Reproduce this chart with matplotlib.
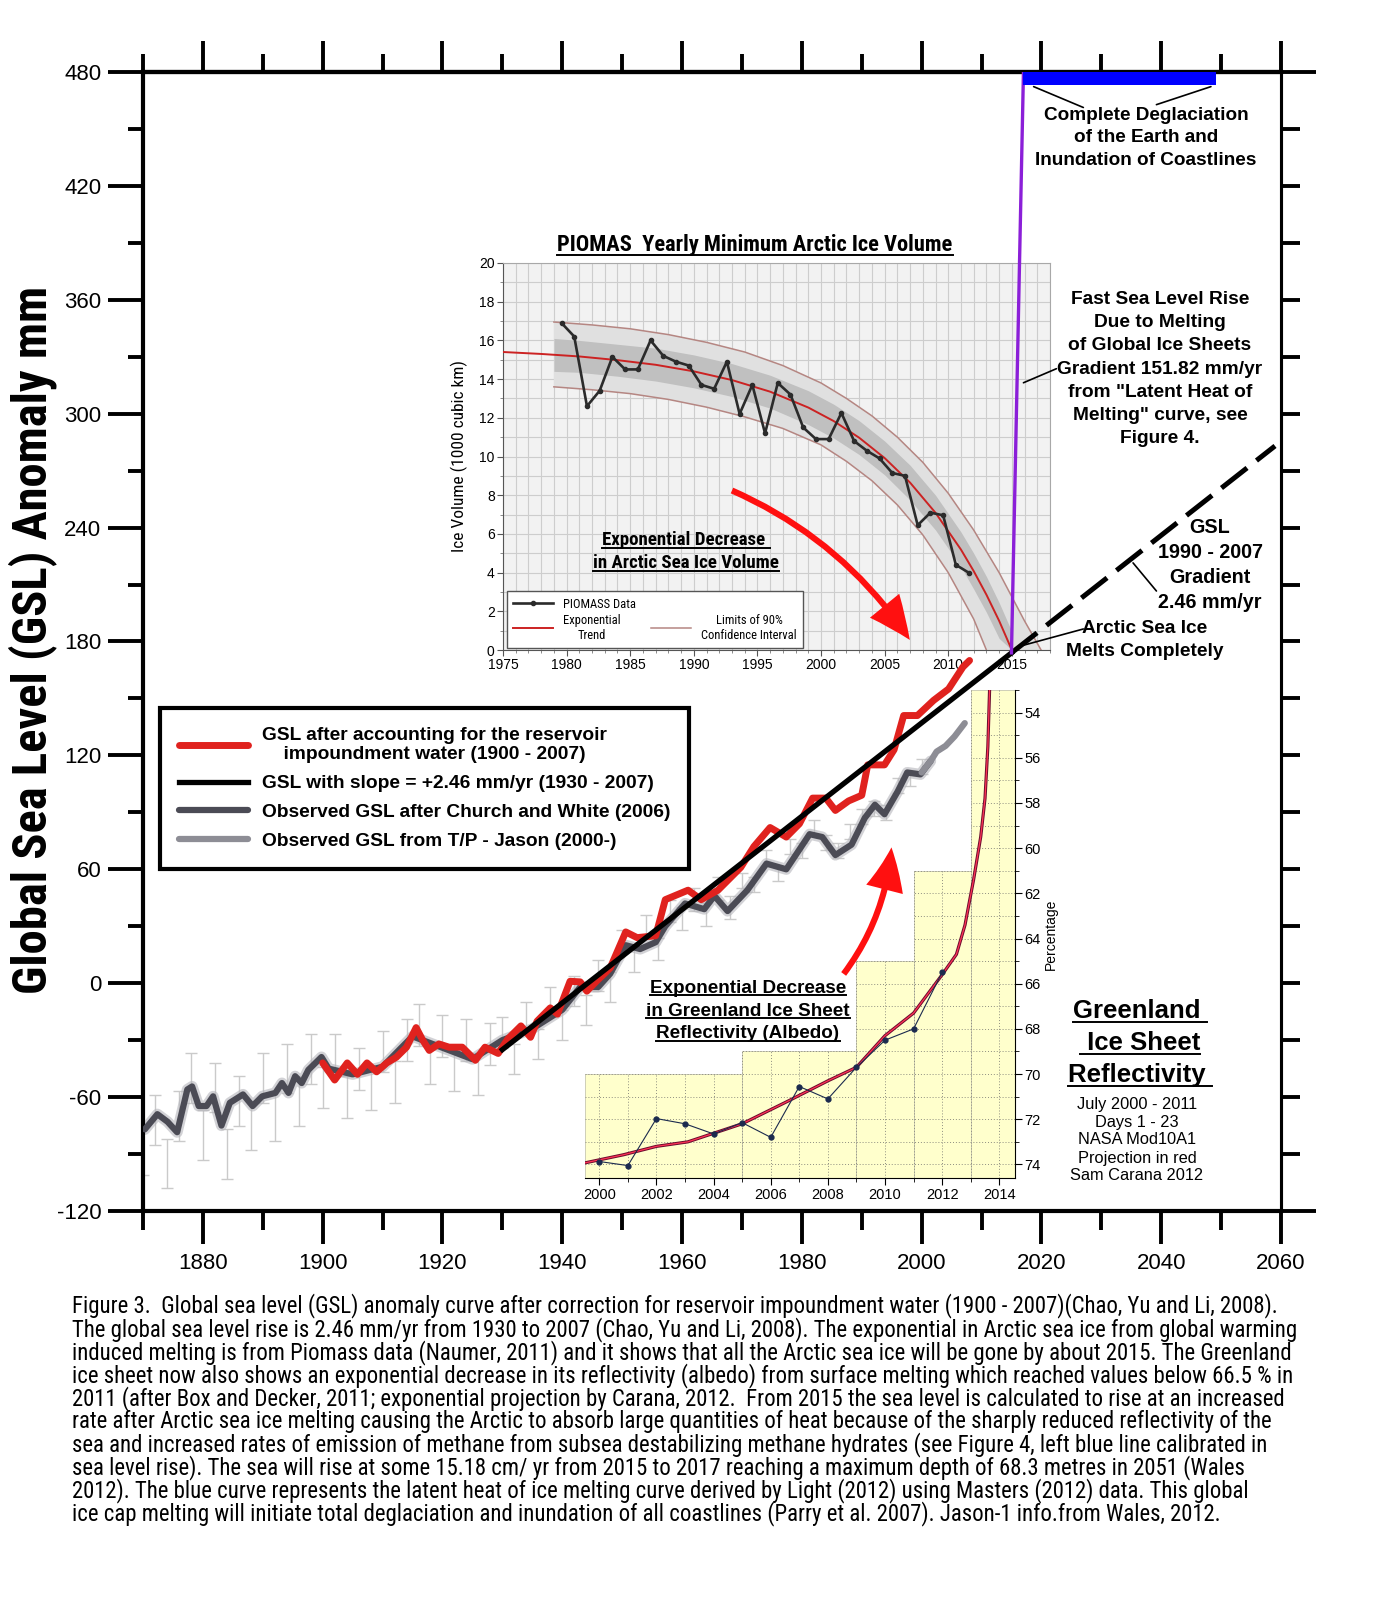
import numpy as np
import matplotlib
matplotlib.use("Agg")
import matplotlib.pyplot as plt
from matplotlib import font_manager
from matplotlib.lines import Line2D
from matplotlib.patches import FancyArrowPatch
from matplotlib.path import Path

# ---------------- data ----------------
# observed GSL after Church and White (dark grey), mm
cw_years = [1870.3, 1872.4, 1874.1, 1875.7, 1877.4, 1878.2, 1879.3, 1880.6, 1881.7, 1883.1,
            1884.5, 1886.7, 1888.3, 1889.9, 1892.1, 1893.2, 1894.3, 1895.4, 1896.5, 1897.6,
            1899.8, 1901, 1905, 1910, 1915, 1920, 1925, 1930, 1935, 1940, 1943, 1946, 1948,
            1950.6, 1953, 1955.6, 1957.2, 1960.5, 1963.7, 1965.4, 1967.6, 1970.9, 1974.1,
            1977.4, 1981.3, 1983.4, 1985.6, 1988.3, 1990.5, 1992.2, 1993.8, 1996, 1997.6,
            1999.8, 2001.5]
cw_values = [-77, -69, -73, -78.5, -56, -54.4, -64.7, -64.7, -59.6, -75,
             -63, -58.6, -64.7, -59.6, -57.8, -52.6, -57.8, -49, -52.6, -45.7,
             -38.9, -45, -48, -44, -28, -34, -40, -30, -24, -14, -2, -2, 5,
             20, 18, 21.6, 30, 42, 39, 46, 38, 49, 63,
             60, 78.5, 77, 67.5, 73, 87, 94, 89, 101, 111,
             110, 117]

# observed GSL from T/P - Jason (mid grey)
tpj_years = [2000, 2001.5, 2002.5, 2004, 2005.5, 2007.2]
tpj_values = [111, 117, 122, 125, 130, 137]

# GSL corrected for reservoir impoundment (red)
red_years = [1900, 1902, 1904.1, 1905.8, 1907.4, 1909, 1910.7, 1912.3, 1914, 1915.6, 1916.7,
             1917.8, 1919.4, 1921.1, 1923.3, 1925.5, 1927.1, 1929.3, 1930.9, 1933.1, 1934.7,
             1935.8, 1938, 1939.2, 1941.3, 1943, 1944.1, 1945.7, 1948, 1950.6, 1952.5, 1955.6,
             1957.2, 1961, 1963.2, 1966, 1969.8, 1972, 1974.7, 1977.4, 1979.6, 1981.8, 1984,
             1985.6, 1987.8, 1990, 1991, 1993.8, 1995.4, 1997, 1999.3, 2002, 2004.5, 2006.9, 2008]
red_values = [-42, -51, -42, -48, -42, -46.7, -42, -39, -33.7, -23.4, -30,
              -35.4, -32, -33.7, -33.7, -40.6, -33.7, -37, -29.4, -22.5, -28.5,
              -20, -13, -16.3, 1, 0.7, -4.2, 1, 8, 27, 24, 25,
              44, 49, 44, 49, 61, 72, 82, 77, 84, 97.5, 97.5,
              91, 96, 99, 115, 115, 123, 141, 141, 149, 155, 166.6, 170]

# annual observations with error bars (light grey)
obs_years = list(range(1870, 2001, 2))
obs_values = [-88, -72, -95, -70, -50, -80, -55, -90, -62, -75, -50, -70, -45, -62, -40,
              -55, -38, -60, -45, -56, -36, -52, -30, -22, -42, -28, -46, -30, -48, -32,
              -26, -40, -18, -32, -10, -22, -4, -14, 4, -2,
              22, 12, 30, 18, 38, 34, 44, 36, 50, 40,
              54, 52, 66, 58, 72, 70, 82, 74, 70, 80, 88, 92, 90, 104, 108, 114]
obs_err = [13, 13, 13, 13, 13, 13, 13, 13, 13, 13, 13, 13, 13, 13, 13,
           11, 11, 11, 11, 11, 11, 11, 11, 11, 11, 11, 11, 11, 11, 11,
           8, 8, 8, 8, 8, 8, 8, 8, 8, 8,
           6, 6, 6, 6, 6, 6, 6, 6, 6, 6,
           4, 4, 4, 4, 4, 4, 4, 4, 4, 4, 4, 4, 4, 4, 4, 4]

# GSL linear fit 2.46 mm/yr and its projection
fit_years = [1930, 2015]
fit_values = [-35, 174]
proj_years = [2015, 2059]
proj_values = [174, 283]

# fast rise after the sea ice is gone (purple) and deglaciation level (blue)
melt_years = [2015, 2017]
melt_values = [174, 480]
deglac_years = [2017, 2049.2]
deglac_top = [480, 480]
deglac_bottom = [473, 473]

# PIOMAS yearly minimum Arctic ice volume, 1000 km3
piomas_years = list(range(1979, 2012))
piomas_values = [16.9, 16.2, 12.6, 13.4, 15.15, 14.5, 14.5, 16.0, 15.2, 14.9, 14.7, 13.7,
                 13.5, 14.9, 12.2, 13.7, 11.2, 13.8, 13.2, 11.5, 10.9, 10.9, 12.25, 10.8,
                 10.3, 9.9, 9.15, 9.0, 6.45, 7.1, 6.96, 4.4, 4.0]
trend_years = [1975, 1978, 1981, 1984, 1987, 1990, 1993, 1996, 1999, 2001, 2003, 2005, 2007,
               2009, 2011, 2012, 2013, 2014, 2015]
trend_values = [15.4, 15.3, 15.17, 14.98, 14.74, 14.4, 13.95, 13.35, 12.53, 11.83, 10.97,
                9.92, 8.65, 7.09, 5.19, 4.08, 2.86, 1.51, 0.0]
band_years = [1979, 1981, 1984, 1987, 1990, 1993, 1996, 1999, 2001, 2003, 2005, 2007, 2009,
              2011, 2012, 2013, 2014, 2015]
band_hi = [16.1, 16.0, 15.8, 15.6, 15.25, 14.8, 14.2, 13.4, 12.7, 11.85, 10.8, 9.55, 8.0,
           6.1, 5.0, 3.8, 2.45, 0.95]
band_lo = [14.4, 14.35, 14.15, 13.9, 13.55, 13.1, 12.5, 11.65, 10.95, 10.1, 9.05, 7.75, 6.2,
           4.3, 3.15, 1.95, 0.6, 0.0]
ci_up_years = [1979, 1982, 1985, 1988, 1991, 1994, 1997, 2000, 2002, 2004, 2006, 2008, 2010,
               2012, 2014, 2016, 2017.3]
ci_up_values = [16.95, 16.8, 16.6, 16.3, 15.9, 15.4, 14.7, 13.8, 13.0, 12.1, 11.0, 9.7, 8.1,
                6.2, 4.0, 1.5, 0.0]
ci_lo_years = [1979, 1982, 1985, 1988, 1991, 1994, 1997, 2000, 2002, 2004, 2006, 2008, 2010,
               2012, 2013]
ci_lo_values = [13.6, 13.45, 13.25, 12.95, 12.55, 12.05, 11.45, 10.6, 9.75, 8.75, 7.5, 5.95,
                4.0, 1.6, 0.0]

# Greenland ice sheet albedo, percent
albedo_years = list(range(2000, 2013))
albedo_values = [73.87, 74.05, 71.97, 72.2, 72.65, 72.15, 72.8, 70.55, 71.1, 69.7, 68.5, 68.0, 65.5]
albproj_years = [1999.5, 2000.85, 2002, 2003.1, 2005, 2006.6, 2008, 2009, 2010, 2011, 2012,
                 2012.5, 2012.8, 2013.1, 2013.35, 2013.5, 2013.6, 2013.66]
albproj_values = [73.93, 73.57, 73.2, 73.0, 72.2, 71.2, 70.3, 69.7, 68.3, 67.3, 65.6,
                  64.7, 63.4, 61.4, 59.5, 57.8, 55.5, 53.0]
yellow_left = [1999.5, 2005, 2009, 2011, 2013]
yellow_width = [5.5, 4, 2, 2, 1.55]
yellow_top = [70, 69, 65, 61, 53]

caption = [
    "Figure 3.  Global sea level (GSL) anomaly curve after correction for reservoir impoundment water (1900 - 2007)(Chao, Yu and Li, 2008).",
    "The global sea level rise is 2.46 mm/yr from 1930 to 2007 (Chao, Yu and Li, 2008). The exponential in Arctic sea ice from global warming",
    "induced melting is from Piomass data (Naumer, 2011) and it shows that all the Arctic sea ice will be gone by about 2015. The Greenland",
    "ice sheet now also shows an exponential decrease in its reflectivity (albedo) from surface melting which reached values below 66.5 % in",
    "2011 (after Box and Decker, 2011; exponential projection by Carana, 2012.  From 2015 the sea level is calculated to rise at an increased",
    "rate after Arctic sea ice melting causing the Arctic to absorb large quantities of heat because of the sharply reduced reflectivity of the",
    "sea and increased rates of emission of methane from subsea destabilizing methane hydrates (see Figure 4, left blue line calibrated in",
    "sea level rise). The sea will rise at some 15.18 cm/ yr from 2015 to 2017 reaching a maximum depth of 68.3 metres in 2051 (Wales",
    "2012). The blue curve represents the latent heat of ice melting curve derived by Light (2012) using Masters (2012) data. This global",
    "ice cap melting will initiate total deglaciation and inundation of all coastlines (Parry et al. 2007). Jason-1 info.from Wales, 2012.",
]

# ---------------- setup ----------------
W, H, DPI = 1396, 1600, 100
SANS = "Liberation Sans"
plt.rcParams["font.family"] = [SANS, "DejaVu Sans"]
plt.rcParams["axes.unicode_minus"] = False


def pick_narrow():
    faces = font_manager.fontManager.ttflist
    names = {f.name for f in faces}
    for p in ("Liberation Sans Narrow", "Arial Narrow", "Roboto Condensed",
              "Open Sans Condensed", "Noto Sans Condensed", "DejaVu Sans Condensed",
              "Noto Sans SemiCondensed"):
        if p in names:
            return dict(family=p)
    for f in faces:
        if f.stretch in ("condensed", "semi-condensed") and "Sans" in f.name and "Mono" not in f.name:
            return dict(family=f.name, stretch=f.stretch)
    return dict(family=SANS)


NARROW = pick_narrow()


def box(l, t, r, b):
    return [l / W, 1 - b / H, (r - l) / W, (b - t) / H]


def fx(x):
    return x / W


def fy(y):
    return 1 - y / H


fig = plt.figure(figsize=(W / DPI, H / DPI), dpi=DPI)
fig.patch.set_facecolor("white")
renderer = fig.canvas.get_renderer()


def fit(t, target, vertical=False):
    for _ in range(3):
        bb = t.get_window_extent(renderer)
        size = bb.height if vertical else bb.width
        t.set_fontsize(t.get_fontsize() * target / size)


def underline(t, lw=1.4):
    bb = t.get_window_extent(renderer)
    y = bb.y0 + 1.5
    fig.add_artist(Line2D([bb.x0 / W, bb.x1 / W], [y / H, y / H],
                          transform=fig.transFigure, color="black", lw=lw))


def text_lines(x, ys, lines, ul=False, **kw):
    for y, s in zip(ys, lines):
        t = fig.text(fx(x), fy(y), s, ha="center", va="center", **kw)
        if ul:
            underline(t)


# ---------------- PIOMAS inset ----------------
axp = fig.add_axes(box(503, 263, 1050, 650), zorder=1)
axp.set_facecolor("#f2f2f2")
axp.set_xlim(1975, 2018)
axp.set_ylim(0, 20)
axp.set_xticks(range(1975, 2016, 5))
axp.set_xticks(range(1975, 2019), minor=True)
axp.set_yticks(range(0, 21, 2))
axp.set_yticks(np.arange(0, 20.01, 1), minor=True)
axp.grid(which="both", color="#cdcdcd", lw=0.8)
axp.set_axisbelow(True)
axp.tick_params(which="major", labelsize=10, length=4, width=0.8, color="#555", pad=2)
axp.tick_params(which="minor", length=2.5, width=0.6, color="#777")
for s in ("top", "right"):
    axp.spines[s].set_color("#a8a8a8")
for s in ("left", "bottom"):
    axp.spines[s].set_color("#555")

axp.fill(np.r_[ci_up_years, ci_lo_years[::-1]], np.r_[ci_up_values, ci_lo_values[::-1]],
         color="#e0e0e0", lw=0, zorder=1)
axp.fill_between(band_years, band_lo, band_hi, color="#c0c0c0", lw=0, zorder=2)
ci_line, = axp.plot(ci_up_years, ci_up_values, color="#b58682", lw=1.1, zorder=3)
axp.plot(ci_lo_years, ci_lo_values, color="#b58682", lw=1.1, zorder=3)
trend_line, = axp.plot(trend_years, trend_values, color="#cc2222", lw=1.4, zorder=4)
data_line, = axp.plot(np.array(piomas_years) + 0.6, piomas_values, color="#2b2b2b", lw=1.9,
                      marker="o", ms=3, zorder=5)
blank = Line2D([], [], alpha=0)
lgp = axp.legend([data_line, trend_line, blank, ci_line],
                 ["PIOMASS Data", "Exponential\nTrend", "", "Limits of 90%\nConfidence Interval"],
                 ncols=2, loc="lower left", bbox_to_anchor=(0.007, 0.005), borderaxespad=0,
                 prop=dict(size=9, **NARROW), frameon=True, fancybox=False,
                 edgecolor="#555", framealpha=1, handlelength=3.2, columnspacing=1.2,
                 labelspacing=0.25, borderpad=0.5)
for t in lgp.get_texts():
    t.set_multialignment("center")
axp.set_ylabel("Ice Volume (1000 cubic km)", fontsize=12.5, labelpad=8,
               fontfamily=NARROW["family"], fontstretch=NARROW.get("stretch", "normal"))
axp.add_patch(FancyArrowPatch((1992.8, 8.3), (2007.1, 0.4), connectionstyle="arc3,rad=-0.15",
                              arrowstyle="simple,tail_width=0.13,head_width=0.8,head_length=0.9",
                              mutation_scale=34, color="#ff1010", lw=0, zorder=6))

# ---------------- Greenland inset ----------------
axg = fig.add_axes(box(585, 690, 1015, 1178), zorder=2)
axg.patch.set_alpha(0)
gb = 74.6
axg.set_xlim(1999.5, 2014.55)
axg.set_ylim(gb, 53)
axg.bar(yellow_left, [t - gb for t in yellow_top], bottom=gb, width=yellow_width, align="edge",
        color="#ffffcc", edgecolor="#c8c8b0", lw=0.6, zorder=0)
verts = [(yellow_left[0], gb)]
for l, w, t in zip(yellow_left, yellow_width, yellow_top):
    verts += [(l, t), (l + w, t)]
verts += [(yellow_left[-1] + yellow_width[-1], gb), (yellow_left[0], gb)]
stair = Path(verts, closed=True)
gv = axg.vlines(range(2000, 2015), 53, gb, colors="#8e8e80", linestyles=(0, (1, 2)), lw=0.7, zorder=1)
gh = axg.hlines(range(54, 75), 1999.5, 2014.55, colors="#8e8e80", linestyles=(0, (1, 2)), lw=0.7, zorder=1)
for g in (gv, gh):
    g.set_clip_path(stair, axg.transData)
axg.yaxis.tick_right()
axg.set_yticks(range(54, 75, 2))
axg.set_yticks(range(53, 75), minor=True)
axg.set_xticks(range(2000, 2015, 2))
axg.set_xticks(range(2000, 2015), minor=True)
axg.tick_params(which="major", labelsize=10.5, length=5, width=0.8, pad=2)
axg.tick_params(which="minor", length=3, width=0.6)
axg.spines[["left", "top"]].set_visible(False)
axg.yaxis.set_label_position("right")
axg.set_ylabel("Percentage", fontsize=10, labelpad=2)
axg.plot(albproj_years, albproj_values, color="#6a0b2e", lw=2.3, zorder=3)
axg.plot(albproj_years, albproj_values, color="#ff3355", lw=0.9, zorder=4)
axg.plot(albedo_years, albedo_values, color="#1b2a4e", lw=0.8, marker="o", ms=3.5, zorder=5)

# ---------------- main chart ----------------
ax = fig.add_axes(box(143, 72, 1281, 1211), zorder=5)
ax.patch.set_alpha(0)
ax.set_xlim(1870, 2060)
ax.set_ylim(-120, 480)

ax.errorbar(obs_years, obs_values, yerr=obs_err, fmt="none", ecolor="#cacaca",
            elinewidth=1.0, capsize=4.5, capthick=1.0, zorder=1)
ax.plot(cw_years, cw_values, color="#b5b5bb", lw=8, alpha=0.6, solid_capstyle="round", zorder=2)
cw_line, = ax.plot(cw_years, cw_values, color="#4b4b55", lw=4.5, solid_capstyle="round", zorder=3)
tpj_line, = ax.plot(tpj_years, tpj_values, color="#8d8d95", lw=4.5, solid_capstyle="round", zorder=3)
red_line, = ax.plot(red_years, red_values, color="#e0221e", lw=5, solid_capstyle="round", zorder=4)
fit_line, = ax.plot(fit_years, fit_values, color="black", lw=3.8, zorder=5)
ax.plot(proj_years, proj_values, color="black", lw=3.6, dashes=(6.5, 2.4), zorder=5)
ax.plot(melt_years, melt_values, color="#8b1fd8", lw=2.4, zorder=6)
ax.fill_between(deglac_years, deglac_bottom, deglac_top, color="#0000ff", lw=0, zorder=6)

for s in ("left", "top", "bottom"):
    ax.spines[s].set_linewidth(3)
ax.spines["right"].set_linewidth(2.2)
ax.set_xticks(range(1880, 2061, 20))
ax.set_xticks(range(1870, 2061, 20), minor=True)
ax.tick_params(axis="x", which="major", length=24, width=2.8, labelsize=16, pad=6)
ax.tick_params(axis="x", which="minor", length=14, width=2.8)
yt = list(range(-120, 481, 60))
ax.set_yticks(yt, [str(v) for v in yt])
ax.set_yticks(range(-90, 481, 60), minor=True)
ax.tick_params(axis="y", which="major", length=25, width=2.8, labelsize=16, pad=5)
ax.tick_params(axis="y", which="minor", length=11, width=2.8)

top = ax.secondary_xaxis("top")
top.set_xticks(range(1880, 2061, 20), labels=[])
top.set_xticks(range(1870, 2061, 20), minor=True)
top.tick_params(which="major", length=22, width=2.8)
top.tick_params(which="minor", length=13, width=2.8)
top.spines["top"].set_linewidth(3)
right = ax.secondary_yaxis("right")
right.set_yticks([-120, 480], labels=[])
right.set_yticks(range(-90, 451, 30), minor=True)
right.tick_params(which="major", length=25, width=2.8)
right.tick_params(which="minor", length=14, width=2.8)
right.spines["right"].set_linewidth(2.2)

leg = ax.legend([red_line, fit_line, cw_line, tpj_line],
                ["GSL after accounting for the reservoir\n    impoundment water (1900 - 2007)",
                 "GSL with slope = +2.46 mm/yr (1930 - 2007)",
                 "Observed GSL after Church and White (2006)",
                 "Observed GSL from T/P - Jason (2000-)"],
                loc="upper left", bbox_to_anchor=(0.015, 0.442), borderaxespad=0,
                prop=dict(family=SANS, weight="bold", size=13.8), frameon=True, fancybox=False,
                edgecolor="black", framealpha=1, handlelength=3.6, handletextpad=0.7,
                labelspacing=0.6, borderpad=1.0)
leg.get_frame().set_linewidth(3)

# red arrow pointing at the Greenland albedo inset
ax.add_patch(FancyArrowPatch((1986.7, 3.7), (1995, 73), connectionstyle="arc3,rad=0.15",
                             arrowstyle="simple,tail_width=0.13,head_width=0.8,head_length=0.9",
                             mutation_scale=34, color="#ff1010", lw=0, zorder=7))

# leader lines
leaders = [((2018.7, 472.3), (2027.0, 461.3)), ((2048.3, 472.3), (2039.2, 462.8)),
           ((2017.0, 316.3), (2022.5, 323.7)), ((2035.3, 221.4), (2039.2, 206.6)),
           ((2016.5, 177.6), (2027.0, 186.6))]
for a, b in leaders:
    ax.annotate("", xy=a, xytext=b, arrowprops=dict(arrowstyle="-", lw=1.2, color="black",
                                                    shrinkA=0, shrinkB=0))

# ---------------- texts ----------------
bold = dict(fontweight="bold", color="black")
fig.text(fx(1146), fy(138), "Complete Deglaciation\nof the Earth and\nInundation of Coastlines",
         ha="center", va="center", fontsize=13.7, linespacing=1.45, **bold)
fig.text(fx(1160), fy(369), "Fast Sea Level Rise\nDue to Melting\nof Global Ice Sheets\n"
         "Gradient 151.82 mm/yr\nfrom \"Latent Heat of\nMelting\" curve, see\nFigure 4.",
         ha="center", va="center", fontsize=13.8, linespacing=1.48, **bold)
fig.text(fx(1210), fy(565), "GSL\n1990 - 2007\nGradient\n2.46 mm/yr",
         ha="center", va="center", fontsize=14.2, linespacing=1.42, **bold)
fig.text(fx(1145), fy(640), "Arctic Sea Ice\nMelts Completely",
         ha="center", va="center", fontsize=13.8, linespacing=1.42, **bold)

nk = dict(fontfamily=NARROW["family"], fontstretch=NARROW.get("stretch", "normal"))
t_title = fig.text(fx(755), fy(245), "PIOMAS  Yearly Minimum Arctic Ice Volume",
                   ha="center", va="center", fontsize=13, **nk, **bold)
fit(t_title, 395)
underline(t_title)
text_lines(686, [540, 563], ["Exponential Decrease ", "in Arctic Sea Ice Volume"], ul=True,
           fontsize=13.6, **nk, **bold)
text_lines(748, [988, 1011, 1034], ["Exponential Decrease", "in Greenland Ice Sheet",
                                    "Reflectivity (Albedo)"], ul=True, fontsize=13.6, **bold)
text_lines(1140, [1011, 1043, 1075], ["Greenland ", " Ice Sheet", "Reflectivity "], ul=True,
           fontsize=18.5, **bold)
text_lines(1137, [1104, 1122, 1140, 1158, 1176],
           ["July 2000 - 2011", "Days 1 - 23", "NASA Mod10A1", "Projection in red",
            "Sam Carana 2012"], fontsize=11.8)

yl = fig.text(fx(33), fy(640), "Global Sea Level (GSL) Anomaly mm", rotation=90,
              ha="center", va="center", fontweight="bold", fontsize=30, **nk)
fit(yl, 710, vertical=True)

cap = [fig.text(fx(72), fy(1306 + 23.1 * i), s, ha="left", va="center", fontsize=13, **nk)
       for i, s in enumerate(caption)]
widest = max(t.get_window_extent(renderer).width for t in cap)
for t in cap:
    t.set_fontsize(t.get_fontsize() * 1222 / widest)

fig.savefig("out.png", dpi=DPI, facecolor="white")
